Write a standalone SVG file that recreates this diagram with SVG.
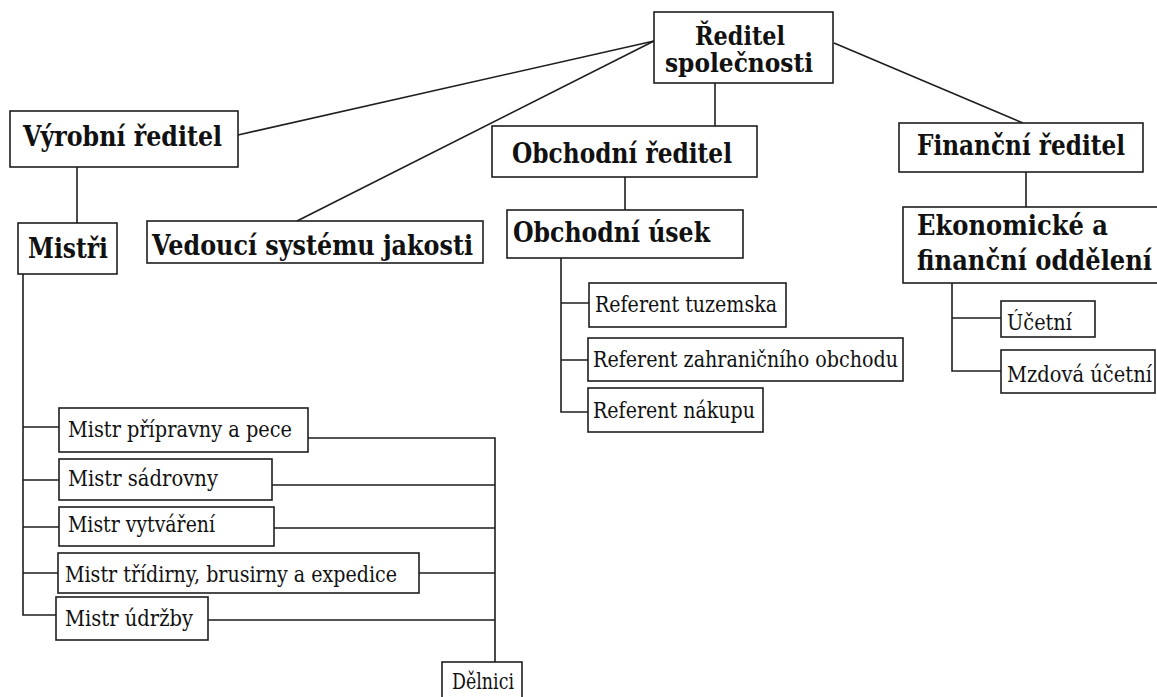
<svg xmlns="http://www.w3.org/2000/svg" width="1157" height="697" viewBox="0 0 1157 697">
<style>
.box{fill:#fff;stroke:#1e1e1e;stroke-width:1.6}
.ln{fill:none;stroke:#1e1e1e;stroke-width:1.6}
.b{font-family:'DejaVu Serif',serif;font-weight:bold;font-size:27px;fill:#111}
.r{font-family:'DejaVu Serif',serif;font-size:22px;fill:#111}
</style>
<rect width="1157" height="697" fill="#fff"/>
<g id="connectors">
<path class="ln" d="M654,41 L238,135"/>
<path class="ln" d="M654,41 L297,221"/>
<path class="ln" d="M834,43 L1023,123"/>
<path class="ln" d="M715,83 V126"/>
<path class="ln" d="M625,177 V210"/>
<path class="ln" d="M561,258 V412 H588 M561,303 H589 M561,360 H588"/>
<path class="ln" d="M1026,172 V207"/>
<path class="ln" d="M952,283 V371 H1001 M952,318 H1001"/>
<path class="ln" d="M77,167 V223"/>
<path class="ln" d="M23,274 V615 H56 M23,427 H59 M23,480 H59 M23,527 H59 M23,573 H58"/>
<path class="ln" d="M308,438 H495 V662 M272,485 H495 M274,528 H495 M419,573 H495 M208,620 H495"/>
</g>
<g id="reditel">
<rect class="box" x="654" y="12" width="179" height="71"/>
<text class="b" style="font-size:26px" transform="translate(695,45) scale(0.72,1)" textLength="125" lengthAdjust="spacingAndGlyphs">Ředitel</text>
<text class="b" style="font-size:26px" transform="translate(665,72) scale(0.72,1)" textLength="205.6" lengthAdjust="spacingAndGlyphs">společnosti</text>
</g>
<g id="vyrobni">
<rect class="box" x="10" y="111" width="228" height="56"/>
<text class="b" transform="translate(23,146) scale(0.72,1)" textLength="276.4" lengthAdjust="spacingAndGlyphs">Výrobní ředitel</text>
</g>
<g id="mistri">
<rect class="box" x="18" y="223" width="99" height="51"/>
<text class="b" transform="translate(28,258) scale(0.72,1)" textLength="111.1" lengthAdjust="spacingAndGlyphs">Mistři</text>
</g>
<g id="vedouci">
<rect class="box" x="147" y="221" width="336" height="42"/>
<text class="b" transform="translate(152,255) scale(0.72,1)" textLength="445.8" lengthAdjust="spacingAndGlyphs">Vedoucí systému jakosti</text>
</g>
<g id="obchodni-reditel">
<rect class="box" x="492" y="126" width="265" height="51"/>
<text class="b" transform="translate(512,163) scale(0.72,1)" textLength="305.6" lengthAdjust="spacingAndGlyphs">Obchodní ředitel</text>
</g>
<g id="obchodni-usek">
<rect class="box" x="507" y="210" width="236" height="48"/>
<text class="b" transform="translate(513,242) scale(0.72,1)" textLength="273.6" lengthAdjust="spacingAndGlyphs">Obchodní úsek</text>
</g>
<g id="ref-tuzemska">
<rect class="box" x="589" y="283" width="197" height="44"/>
<text class="r" transform="translate(595,312) scale(0.82,1)" textLength="222" lengthAdjust="spacingAndGlyphs">Referent tuzemska</text>
</g>
<g id="ref-zahranici">
<rect class="box" x="588" y="338" width="315" height="43"/>
<text class="r" transform="translate(593,367) scale(0.82,1)" textLength="372" lengthAdjust="spacingAndGlyphs">Referent zahraničního obchodu</text>
</g>
<g id="ref-nakupu">
<rect class="box" x="588" y="388" width="175" height="44"/>
<text class="r" transform="translate(593,418) scale(0.82,1)" textLength="197.6" lengthAdjust="spacingAndGlyphs">Referent nákupu</text>
</g>
<g id="financni-reditel">
<rect class="box" x="899" y="123" width="244" height="49"/>
<text class="b" transform="translate(917,155) scale(0.72,1)" textLength="288.9" lengthAdjust="spacingAndGlyphs">Finanční ředitel</text>
</g>
<g id="ekonomicke">
<rect class="box" x="903" y="207" width="260" height="76"/>
<text class="b" transform="translate(917,235) scale(0.72,1)" textLength="265.3" lengthAdjust="spacingAndGlyphs">Ekonomické a</text>
<text class="b" transform="translate(917,270) scale(0.72,1)" textLength="326.4" lengthAdjust="spacingAndGlyphs">finanční oddělení</text>
</g>
<g id="ucetni">
<rect class="box" x="1001" y="301" width="94" height="36"/>
<text class="r" transform="translate(1007,330) scale(0.82,1)" textLength="79.3" lengthAdjust="spacingAndGlyphs">Účetní</text>
</g>
<g id="mzdova">
<rect class="box" x="1001" y="350" width="154" height="43"/>
<text class="r" transform="translate(1007,382) scale(0.82,1)" textLength="176.8" lengthAdjust="spacingAndGlyphs">Mzdová účetní</text>
</g>
<g id="mistr-pripravny">
<rect class="box" x="59" y="408" width="249" height="44"/>
<text class="r" transform="translate(68,437) scale(0.82,1)" textLength="273.2" lengthAdjust="spacingAndGlyphs">Mistr přípravny a pece</text>
</g>
<g id="mistr-sadrovny">
<rect class="box" x="59" y="459" width="213" height="41"/>
<text class="r" transform="translate(68,486) scale(0.82,1)" textLength="182.9" lengthAdjust="spacingAndGlyphs">Mistr sádrovny</text>
</g>
<g id="mistr-vytvareni">
<rect class="box" x="59" y="507" width="215" height="39"/>
<text class="r" transform="translate(68,532) scale(0.82,1)" textLength="179.3" lengthAdjust="spacingAndGlyphs">Mistr vytváření</text>
</g>
<g id="mistr-tridirny">
<rect class="box" x="58" y="553" width="361" height="40"/>
<text class="r" transform="translate(65,582) scale(0.82,1)" textLength="404.9" lengthAdjust="spacingAndGlyphs">Mistr třídirny, brusirny a expedice</text>
</g>
<g id="mistr-udrzby">
<rect class="box" x="56" y="597" width="152" height="43"/>
<text class="r" transform="translate(65,626) scale(0.82,1)" textLength="156.1" lengthAdjust="spacingAndGlyphs">Mistr údržby</text>
</g>
<g id="delnici">
<rect class="box" x="442" y="662" width="80" height="40"/>
<text class="r" transform="translate(452,689) scale(0.82,1)" textLength="75.6" lengthAdjust="spacingAndGlyphs">Dělnici</text>
</g>
</svg>
